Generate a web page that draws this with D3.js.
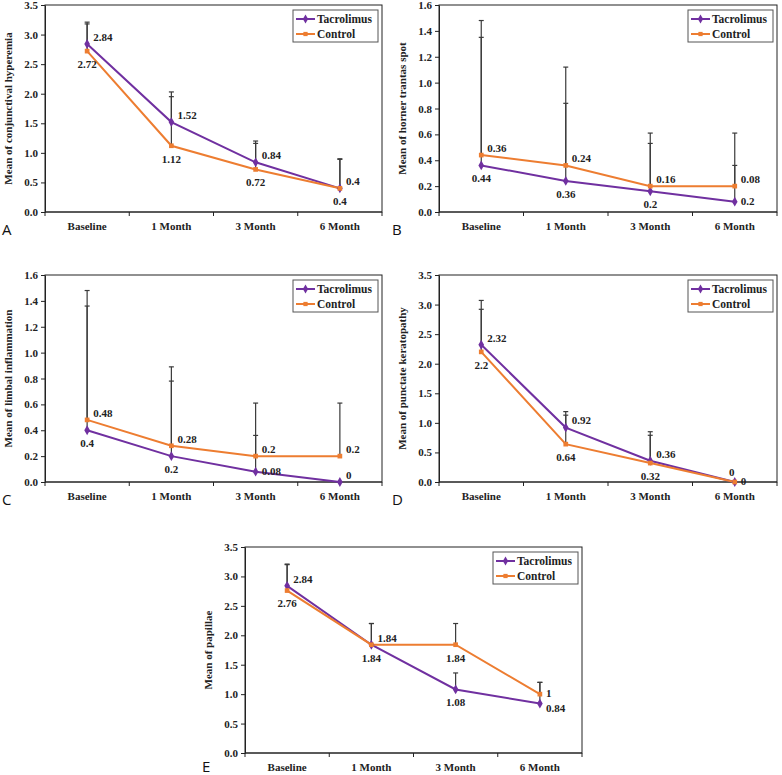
<!DOCTYPE html>
<html><head><meta charset="utf-8">
<script src="https://cdn.jsdelivr.net/npm/d3@7"></script>
<style>html,body{margin:0;padding:0;background:#fff;}svg{display:block;}</style>
</head><body>
<svg id="fig" width="782" height="775"></svg>
<script>
// ---------- DATA ----------
const categories = ["Baseline", "1 Month", "3 Month", "6 Month"];
const seriesNames = ["Tacrolimus", "Control"];

// Panel A
const aTitle = "Mean of conjunctival hyperemia";
const aTicks = [0, 0.5, 1.0, 1.5, 2.0, 2.5, 3.0, 3.5];
const aTac = [2.84, 1.52, 0.84, 0.4];
const aCtrl = [2.72, 1.12, 0.72, 0.4];
const aTacErrTop = [3.21, 2.03, 1.20, 0.90];
const aCtrlErrTop = [3.18, 1.95, 1.16, 0.89];
const aTopText = ["2.84", "1.52", "0.84", "0.4"];
const aBotText = ["2.72", "1.12", "0.72", "0.4"];

// Panel B
const bTitle = "Mean of horner trantas spot";
const bTicks = [0, 0.2, 0.4, 0.6, 0.8, 1.0, 1.2, 1.4, 1.6];
const bTac = [0.36, 0.24, 0.16, 0.08];
const bCtrl = [0.44, 0.36, 0.2, 0.2];
const bTacErrTop = [1.35, 0.84, 0.53, 0.36];
const bCtrlErrTop = [1.48, 1.12, 0.61, 0.61];
const bTopText = ["0.36", "0.24", "0.16", "0.08"];
const bBotText = ["0.44", "0.36", "0.2", "0.2"];

// Panel C
const cTitle = "Mean of limbal inflammation";
const cTicks = [0, 0.2, 0.4, 0.6, 0.8, 1.0, 1.2, 1.4, 1.6];
const cTac = [0.4, 0.2, 0.08, 0];
const cCtrl = [0.48, 0.28, 0.2, 0.2];
const cTacErrTop = [1.36, 0.78, 0.36, 0];
const cCtrlErrTop = [1.48, 0.89, 0.61, 0.61];
const cTopText = ["0.48", "0.28", "0.2", "0.2"];
const cBotText = ["0.4", "0.2", "0.08", "0"];

// Panel D
const dTitle = "Mean of punctate keratopathy";
const dTicks = [0, 0.5, 1.0, 1.5, 2.0, 2.5, 3.0, 3.5];
const dTac = [2.32, 0.92, 0.36, 0];
const dCtrl = [2.2, 0.64, 0.32, 0];
const dTacErrTop = [3.07, 1.19, 0.85, 0];
const dCtrlErrTop = [2.92, 1.13, 0.79, 0];
const dTopText = ["2.32", "0.92", "0.36", "0"];
const dBotText = ["2.2", "0.64", "0.32", "0"];

// Panel E
const eTitle = "Mean of papillae";
const eTicks = [0, 0.5, 1.0, 1.5, 2.0, 2.5, 3.0, 3.5];
const eTac = [2.84, 1.84, 1.08, 0.84];
const eCtrl = [2.76, 1.84, 1.84, 1.0];
const eTacErrTop = [3.21, 2.20, 1.36, 1.20];
const eCtrlErrTop = [3.20, 2.20, 2.20, 1.20];
const eTopText = ["2.84", "1.84", "1.84", "1"];
const eBotText = ["2.76", "1.84", "1.08", "0.84"];

// ---------- LAYOUT ----------
const panels = [
  {letter: "A", title: aTitle, ticks: aTicks, tac: aTac, ctrl: aCtrl, tacErr: aTacErrTop, ctrlErr: aCtrlErrTop,
   topText: aTopText, botText: aBotText, topPos: ["ar","ar","ar","ar"], botPos: ["b","b","b","b"],
   box: {l: 45, t: 5, r: 382, b: 212}, letterXY: [2, 235]},
  {letter: "B", title: bTitle, ticks: bTicks, tac: bTac, ctrl: bCtrl, tacErr: bTacErrTop, ctrlErr: bCtrlErrTop,
   topText: bTopText, botText: bBotText, topPos: ["ar","ar","ar","ar"], botPos: ["b","b","b","r"],
   box: {l: 439, t: 5, r: 777, b: 212}, letterXY: [392, 235]},
  {letter: "C", title: cTitle, ticks: cTicks, tac: cTac, ctrl: cCtrl, tacErr: cTacErrTop, ctrlErr: cCtrlErrTop,
   topText: cTopText, botText: cBotText, topPos: ["ar","ar","ar","ar"], botPos: ["b","b","r","ar"],
   box: {l: 45, t: 275, r: 382, b: 482}, letterXY: [2, 505]},
  {letter: "D", title: dTitle, ticks: dTicks, tac: dTac, ctrl: dCtrl, tacErr: dTacErrTop, ctrlErr: dCtrlErrTop,
   topText: dTopText, botText: dBotText, topPos: ["ar","ar","ar","a"], botPos: ["b","b","b","r"],
   box: {l: 439, t: 275, r: 777, b: 482}, letterXY: [392, 505]},
  {letter: "E", title: eTitle, ticks: eTicks, tac: eTac, ctrl: eCtrl, tacErr: eTacErrTop, ctrlErr: eCtrlErrTop,
   topText: eTopText, botText: eBotText, topPos: ["ar","ar","b","r"], botPos: ["b","b","b","rb"],
   box: {l: 245, t: 547, r: 582, b: 753}, letterXY: [202, 772]}
];

const TAC_COLOR = "#7030A0";
const CTRL_COLOR = "#ED7D31";
const ERR_COLOR = "#3a3a3a";
const SERIF = "'Liberation Serif','Times New Roman',serif";

const posOffsets = {
  ar: {dx: 6, dy: -7, anchor: "start"},
  b:  {dx: 0, dy: 13, anchor: "middle"},
  r:  {dx: 6, dy: -1, anchor: "start"},
  rb: {dx: 6, dy: 5, anchor: "start"},
  a:  {dx: -3, dy: -10, anchor: "middle"}
};

const svg = d3.select("#fig");

panels.forEach(p => {
  const g = svg.append("g");
  const {l, t, r, b} = p.box;
  const yMax = p.ticks[p.ticks.length - 1];
  const y = d3.scaleLinear().domain([0, yMax]).range([b, t]);
  const xBand = d3.scaleBand().domain(categories).range([l, r]).padding(0);
  const x = d3.scalePoint().domain(categories).range([l, r]).padding(0.5);

  // plot frame
  g.append("rect").attr("x", l).attr("y", t).attr("width", r - l).attr("height", b - t)
    .attr("fill", "none").attr("stroke", "#222").attr("stroke-width", 1);

  // y axis
  const yAxis = d3.axisLeft(y).tickValues(p.ticks).tickFormat(d3.format(".1f")).tickSizeInner(4).tickSizeOuter(0).tickPadding(3);
  const ya = g.append("g").attr("transform", `translate(${l},0)`).call(yAxis);
  ya.select(".domain").attr("stroke", "#222");
  ya.selectAll(".tick line").attr("stroke", "#222");
  ya.selectAll("text").attr("font-family", SERIF).attr("font-weight", "bold").attr("font-size", 11).attr("fill", "#222");

  // x axis: ticks at band boundaries, labels at centres
  const xa = g.append("g").attr("transform", `translate(0,${b})`);
  xa.append("line").attr("x1", l).attr("x2", r).attr("stroke", "#222");
  const bounds = categories.map(c => xBand(c)).concat([r]);
  xa.selectAll(".bt").data(bounds).enter().append("line")
    .attr("x1", d => d).attr("x2", d => d).attr("y1", 0).attr("y2", 4).attr("stroke", "#222");
  xa.selectAll(".xl").data(categories).enter().append("text")
    .attr("x", d => x(d)).attr("y", 14).attr("dy", "0.35em").attr("text-anchor", "middle")
    .attr("font-family", SERIF).attr("font-weight", "bold").attr("font-size", 11).attr("fill", "#222")
    .text(d => d);

  // y title
  g.append("text").attr("transform", `translate(${l - 37},${(t + b) / 2}) rotate(-90)`)
    .attr("text-anchor", "middle").attr("dy", "0.35em")
    .attr("font-family", SERIF).attr("font-weight", "bold").attr("font-size", 11).attr("fill", "#222")
    .text(p.title);

  // panel letter
  g.append("text").attr("x", p.letterXY[0]).attr("y", p.letterXY[1])
    .attr("font-family", "'Open Sans','Noto Sans',sans-serif").attr("font-size", 15).attr("fill", "#111")
    .text(p.letter);

  const series = [
    {name: seriesNames[0], vals: p.tac, err: p.tacErr, color: TAC_COLOR, marker: "diamond"},
    {name: seriesNames[1], vals: p.ctrl, err: p.ctrlErr, color: CTRL_COLOR, marker: "square"}
  ];

  // lines
  const line = d3.line().x((d, i) => x(categories[i])).y(d => y(d));
  series.forEach(s => {
    g.append("path").datum(s.vals).attr("d", line).attr("fill", "none")
      .attr("stroke", s.color).attr("stroke-width", 2);
  });

  // error bars (upper only)
  series.forEach(s => {
    s.vals.forEach((v, i) => {
      const top = s.err[i];
      if (top <= v) return;
      const cx = x(categories[i]);
      g.append("line").attr("x1", cx).attr("x2", cx).attr("y1", y(v)).attr("y2", y(top))
        .attr("stroke", ERR_COLOR).attr("stroke-width", 1.2);
      g.append("line").attr("x1", cx - 2.5).attr("x2", cx + 2.5).attr("y1", y(top)).attr("y2", y(top))
        .attr("stroke", ERR_COLOR).attr("stroke-width", 1.2);
    });
  });

  // markers
  series.forEach(s => {
    const sym = s.marker === "diamond" ? d3.symbolDiamond : d3.symbolSquare;
    const size = s.marker === "diamond" ? 28 : 22;
    g.selectAll(null).data(s.vals).enter().append("path")
      .attr("d", d3.symbol().type(sym).size(size))
      .attr("transform", (d, i) => `translate(${x(categories[i])},${y(d)})`)
      .attr("fill", s.color);
  });

  // value labels
  categories.forEach((c, i) => {
    const hi = Math.max(p.tac[i], p.ctrl[i]);
    const lo = Math.min(p.tac[i], p.ctrl[i]);
    [[p.topText[i], p.topPos[i], hi], [p.botText[i], p.botPos[i], lo]].forEach(([txt, pos, v]) => {
      const o = posOffsets[pos];
      g.append("text").attr("x", x(c) + o.dx).attr("y", y(v) + o.dy).attr("dy", "0.35em")
        .attr("text-anchor", o.anchor)
        .attr("font-family", SERIF).attr("font-weight", "bold").attr("font-size", 11).attr("fill", "#222")
        .text(txt);
    });
  });

  // legend
  const lgW = 85, lgH = 32;
  const lgX = r - 4 - lgW, lgY = t + 5;
  const lg = g.append("g").attr("transform", `translate(${lgX},${lgY})`);
  lg.append("rect").attr("width", lgW).attr("height", lgH).attr("fill", "#fff").attr("stroke", "#555").attr("stroke-width", 1);
  series.forEach((s, k) => {
    const ry = 9 + k * 15;
    lg.append("line").attr("x1", 3).attr("x2", 22).attr("y1", ry).attr("y2", ry).attr("stroke", s.color).attr("stroke-width", 2);
    const sym = s.marker === "diamond" ? d3.symbolDiamond : d3.symbolSquare;
    lg.append("path").attr("d", d3.symbol().type(sym).size(s.marker === "diamond" ? 24 : 18))
      .attr("transform", `translate(12.5,${ry})`).attr("fill", s.color);
    lg.append("text").attr("x", 24).attr("y", ry).attr("dy", "0.35em")
      .attr("font-family", SERIF).attr("font-weight", "bold").attr("font-size", 11.5).attr("fill", "#222")
      .text(s.name);
  });
});
</script>
</body></html>
